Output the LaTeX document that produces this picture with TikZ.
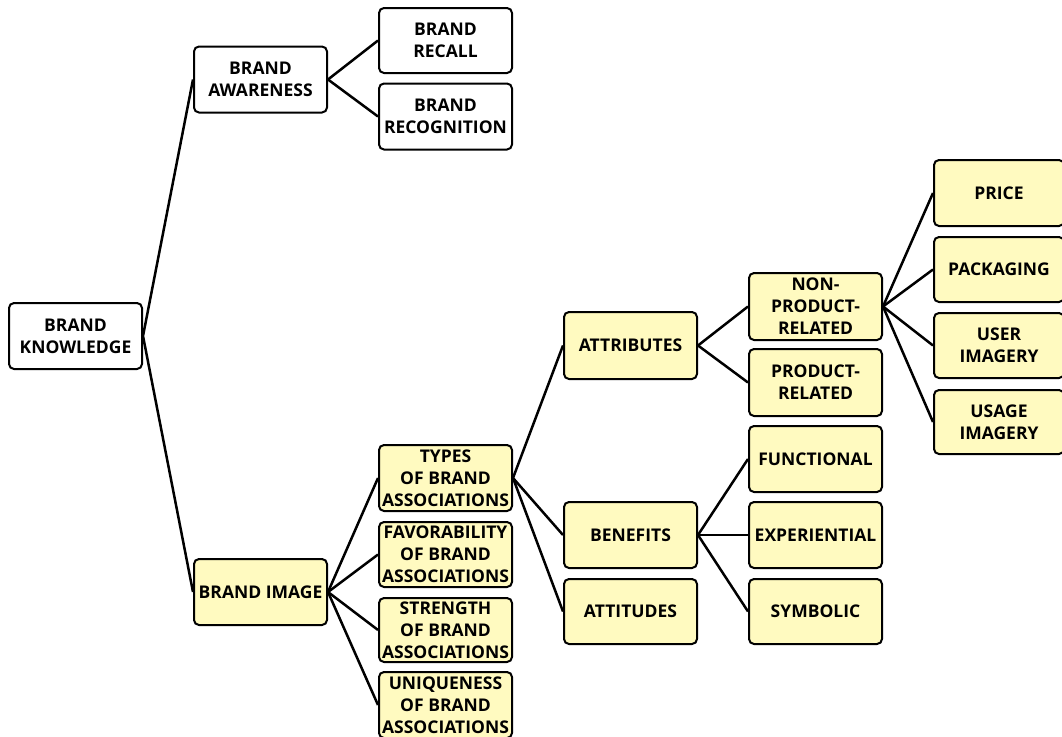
\documentclass[tikz,border=0pt]{standalone}
\usepackage{fontspec}
\setmainfont{Open Sans}
\definecolor{boxyellow}{RGB}{255,250,192}
\begin{document}
\begin{tikzpicture}[x=1pt,y=-1pt,
  box/.style={draw=black, line width=2pt, rounded corners=5pt, minimum width=133pt, minimum height=66pt,
    align=center, inner sep=0pt, font=\bfseries\fontsize{17.5}{22}\selectfont, fill=white},
  ybox/.style={box, fill=boxyellow},
  link/.style={line width=2.5pt}]
\useasboundingbox (0,0) rectangle (1062,736);
\node[box] (know) at (75.5,336) {BRAND\\KNOWLEDGE};
\node[box] (aware) at (260.5,79.5) {BRAND\\AWARENESS};
\node[box, minimum height=65pt] (recall) at (445.5,40.5) {BRAND\\RECALL};
\node[box] (recog) at (445.5,116.5) {BRAND\\RECOGNITION};
\node[ybox] (image) at (260.5,592) {BRAND IMAGE};
\node[ybox] (types) at (445.5,478) {TYPES\\OF BRAND\\ASSOCIATIONS};
\node[ybox, minimum height=65pt] (favor) at (445.5,554.5) {FAVORABILITY\\OF BRAND\\ASSOCIATIONS};
\node[ybox, minimum height=64pt] (strength) at (445.5,630) {STRENGTH\\OF BRAND\\ASSOCIATIONS};
\node[ybox] (uniq) at (445.5,705) {UNIQUENESS\\OF BRAND\\ASSOCIATIONS};
\node[ybox, minimum height=67pt] (attr) at (630.5,345.5) {ATTRIBUTES};
\node[ybox] (benef) at (630.5,535) {BENEFITS};
\node[ybox, minimum height=65pt] (attit) at (630.5,611.5) {ATTITUDES};
\node[ybox, minimum height=67pt] (nonprod) at (815.5,306.5) {NON-\\PRODUCT-\\RELATED};
\node[ybox, minimum height=67pt] (prod) at (815.5,382.5) {PRODUCT-\\RELATED};
\node[ybox] (func) at (815.5,459) {FUNCTIONAL};
\node[ybox] (exper) at (815.5,535) {EXPERIENTIAL};
\node[ybox, minimum height=65pt] (symb) at (815.5,611.5) {SYMBOLIC};
\node[ybox, minimum width=130pt] (price) at (999,193) {PRICE};
\node[ybox, minimum width=130pt, minimum height=65pt] (pack) at (999,269.5) {PACKAGING};
\node[ybox, minimum width=130pt, minimum height=65pt] (user) at (999,345.5) {USER\\IMAGERY};
\node[ybox, minimum width=130pt, minimum height=64pt] (usage) at (999,422) {USAGE\\IMAGERY};
\foreach \p/\c in {know/aware, know/image, aware/recall, aware/recog,
  image/types, image/favor, image/strength, image/uniq,
  types/attr, types/benef, types/attit,
  attr/nonprod, attr/prod, benef/func, benef/exper, benef/symb,
  nonprod/price, nonprod/pack, nonprod/user, nonprod/usage}
  \draw[link] (\p.east) -- (\c.west);
\end{tikzpicture}
\end{document}
